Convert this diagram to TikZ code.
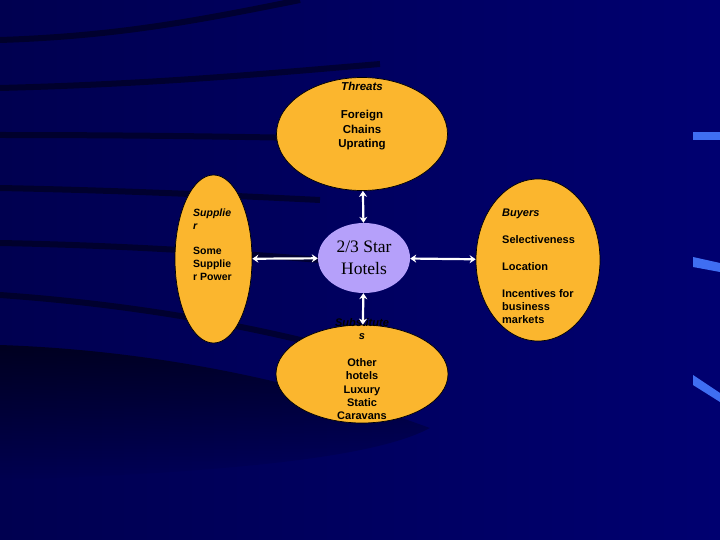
\documentclass[tikz,border=0pt]{standalone}
\usepackage{fontspec}
\setmainfont{Liberation Sans}
\newfontfamily\serifhub{Liberation Serif}
\usepackage{tikz}
\usetikzlibrary{positioning,arrows.meta,shapes.geometric,fadings}
\definecolor{navy}{HTML}{000070}
\definecolor{navyleft}{HTML}{000050}
\definecolor{gold}{HTML}{FBB62E}
\definecolor{lilac}{HTML}{B5A0FA}
\definecolor{glint}{HTML}{3F6EF2}
\tikzfading[name=shadow down, top color=transparent!0, bottom color=transparent!100]

\begin{document}
\begin{tikzpicture}[x=1pt,y=-1pt,
  force/.style={ellipse,draw=black,line width=0.7pt,fill=gold,inner sep=0pt},
  forcetext/.style={inner sep=0pt,text=black,font=\fontsize{11}{13.4}\selectfont\bfseries},
  streak/.style={black,line width=6pt,opacity=0.45},
  link/.style={{Stealth[length=6pt,width=8pt]}-{Stealth[length=6pt,width=8pt]},white,line width=2.2pt}]
  \useasboundingbox (0,0) rectangle (720,540);
  % background
  \shade[left color=navyleft,right color=navy] (0,0) rectangle (720,540);
  \fill[black,opacity=0.6,path fading=shadow down] (0,345) .. controls (150,350) and (300,380) .. (430,428)
    .. controls (380,455) and (250,472) .. (0,480) -- cycle;
  \draw[streak] (0,40) .. controls (120,36) and (200,20) .. (300,0);
  \draw[streak] (0,88) .. controls (150,84) and (250,75) .. (380,64);
  \draw[streak] (0,135) .. controls (100,135) and (200,136) .. (300,138);
  \draw[streak] (0,188) .. controls (100,190) and (200,194) .. (320,200);
  \draw[streak] (0,243) .. controls (100,245) and (200,250) .. (320,260);
  \draw[streak] (0,295) .. controls (100,302) and (220,318) .. (340,350);
  \fill[glint] (693,132) -- (720,132) -- (720,140) -- (693,140) -- cycle;
  \fill[glint] (693,257) -- (720,263) -- (720,272) -- (693,267) -- cycle;
  \fill[glint] (693,375) -- (720,393) -- (720,402) -- (693,385) -- cycle;

  % five forces
  \node[force,minimum width=171pt,minimum height=113pt] (threats) at (362,134) {};
  \node[force,minimum width=77pt,minimum height=168pt] (supplier) at (213.5,259) {};
  \node[force,minimum width=124pt,minimum height=162pt] (buyers) at (538,260) {};
  \node[force,minimum width=172pt,minimum height=98pt] (subs) at (362,374) {};
  \node[ellipse,fill=lilac,minimum width=92pt,minimum height=70pt,inner sep=0pt,
        font=\serifhub\fontsize{17.5}{22}\selectfont,align=center] (hub) at (364,258) {2/3 Star\\Hotels};

  \node[forcetext,anchor=north,align=center,font=\fontsize{11.5}{14.2}\selectfont\bfseries]
    (threatstext) at (362,82) {\textit{Threats}\\[14.2pt]Foreign\\Chains\\Uprating};
  \node[forcetext,anchor=north west,align=left,font=\fontsize{10.5}{12.7}\selectfont\bfseries]
    (suppliertext) at (193,209) {\textit{Supplie}\\\textit{r}\\[12.7pt]Some\\Supplie\\r Power};
  \node[forcetext,anchor=north west,align=left] (buyerstext) at (502,209)
    {\textit{Buyers}\\[13.4pt]Selectiveness\\[13.4pt]Location\\[13.4pt]Incentives for\\business\\markets};
  \node[forcetext,anchor=north,align=center] (substext) at (362,318)
    {\textit{Substitute}\\\textit{s}\\[13.4pt]Other\\hotels\\Luxury\\Static\\Caravans};

  \draw[link] (hub) -- (threats);
  \draw[link] (hub) -- (subs);
  \draw[link] (hub) -- (supplier);
  \draw[link] (hub) -- (buyers);
\end{tikzpicture}
\end{document}
